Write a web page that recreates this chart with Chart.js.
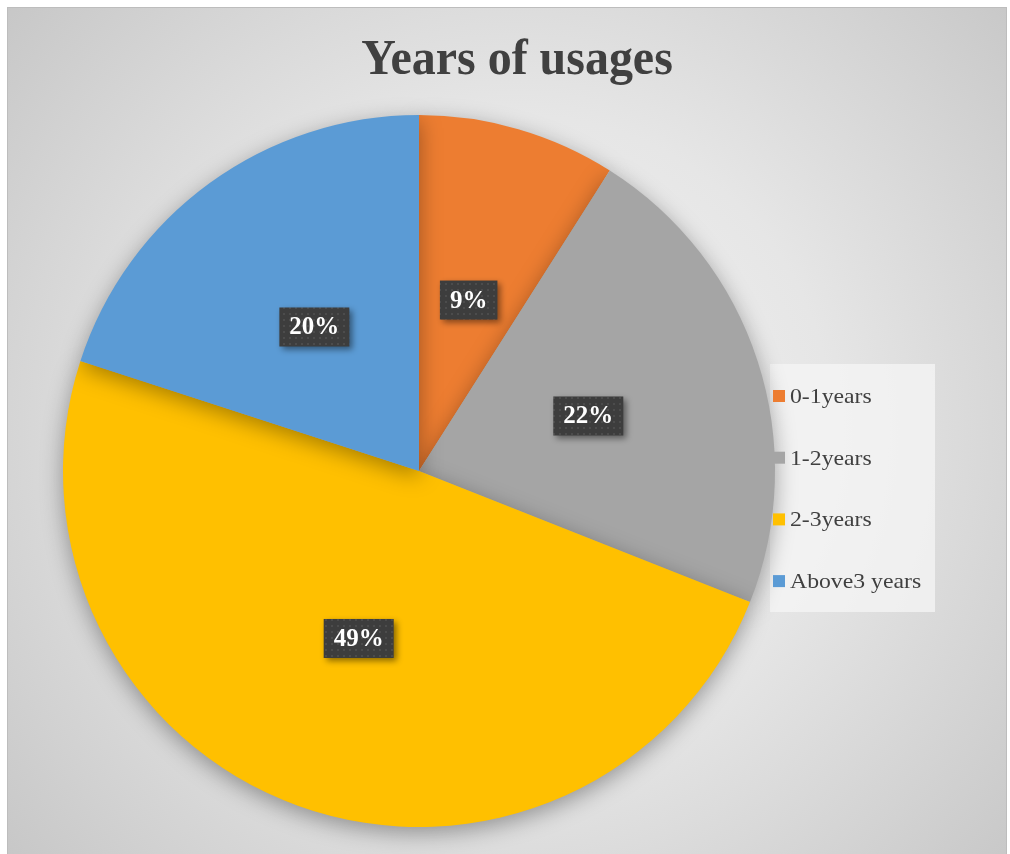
<!DOCTYPE html>
<html>
<head>
<meta charset="utf-8">
<script src="https://cdn.jsdelivr.net/npm/chart.js@4/dist/chart.umd.min.js"></script>
<style>
  html, body { margin: 0; padding: 0; background: #fff; }
  #wrap { width: 1010px; height: 854px; position: relative; }
</style>
</head>
<body>
<div id="wrap"><canvas id="usageChart" width="1010" height="854"></canvas></div>
<script>
// Years of usage data (percent of respondents)
const categories = ['0-1years', '1-2years', '2-3years', 'Above3 years'];
const shares = [9, 22, 49, 20];
const sliceColors = ['#ED7D31', '#A5A5A5', '#FFC000', '#5B9BD5'];
const chartTitle = 'Years of usages';

const SERIF = '"Liberation Serif", "Times New Roman", serif';

// small dotted fill for the value labels
function dotPattern(ctx) {
    const p = document.createElement('canvas');
    p.width = 6; p.height = 6;
    const pc = p.getContext('2d');
    pc.fillStyle = '#3d3d3d';
    pc.fillRect(0, 0, 6, 6);
    pc.fillStyle = '#4c4c4c';
    pc.fillRect(1, 1, 2, 2);
    return ctx.createPattern(p, 'repeat');
}

// frame background + title
const backdrop = {
    id: 'backdrop',
    beforeDraw(chart) {
        const ctx = chart.ctx;
        ctx.save();
        ctx.fillStyle = '#ffffff';
        ctx.fillRect(0, 0, chart.width, chart.height);
        const g = ctx.createRadialGradient(517, 430, 0, 517, 430, 700);
        g.addColorStop(0, '#f4f4f4');
        g.addColorStop(0.45, '#e6e6e6');
        g.addColorStop(1, '#c4c4c4');
        ctx.fillStyle = g;
        ctx.fillRect(7, 7, 1000, 847);
        ctx.strokeStyle = '#bdbdbd';
        ctx.lineWidth = 1;
        ctx.strokeRect(7.5, 7.5, 999, 850);

        // legend panel sits behind the pie
        ctx.fillStyle = 'rgba(245,245,245,0.75)';
        ctx.fillRect(770, 364, 165, 248);

        ctx.fillStyle = '#404040';
        ctx.font = 'bold 51px ' + SERIF;
        ctx.textAlign = 'center';
        ctx.textBaseline = 'alphabetic';
        ctx.translate(517, 74);
        ctx.scale(0.94, 1);
        ctx.fillText(chartTitle, 0, 0);
        ctx.restore();
    },
    beforeDatasetsDraw(chart) {
        const ctx = chart.ctx;
        ctx.save();
        ctx.shadowColor = 'rgba(0,0,0,0.35)';
        ctx.shadowBlur = 22;
        ctx.shadowOffsetY = 6;
    },
    afterDatasetsDraw(chart) {
        chart.ctx.restore();
    }
};

// boxed percentage labels at half radius + legend on the right
const annotate = {
    id: 'annotate',
    afterDraw(chart) {
        const ctx = chart.ctx;
        const meta = chart.getDatasetMeta(0);
        const fill = dotPattern(ctx);
        ctx.save();
        ctx.font = 'bold 25px ' + SERIF;
        ctx.textAlign = 'center';
        ctx.textBaseline = 'middle';
        meta.data.forEach((arc, i) => {
            const mid = (arc.startAngle + arc.endAngle) / 2;
            const r = arc.outerRadius * 0.5;
            const x = arc.x + Math.cos(mid) * r;
            const y = arc.y + Math.sin(mid) * r;
            const text = chart.data.datasets[0].data[i] + '%';
            const w = ctx.measureText(text).width + 20;
            const h = 39;
            ctx.save();
            ctx.shadowColor = 'rgba(0,0,0,0.45)';
            ctx.shadowBlur = 6;
            ctx.shadowOffsetX = 3;
            ctx.shadowOffsetY = 3;
            ctx.fillStyle = fill;
            ctx.fillRect(x - w / 2, y - h / 2, w, h);
            ctx.restore();
            ctx.fillStyle = '#ffffff';
            ctx.fillText(text, x, y + 1);
        });

        ctx.font = '21px ' + SERIF;
        ctx.textAlign = 'left';
        ctx.textBaseline = 'alphabetic';
        chart.data.labels.forEach((lab, i) => {
            const y = 396 + i * 61.7;
            ctx.fillStyle = chart.data.datasets[0].backgroundColor[i];
            ctx.fillRect(773, y - 6, 12, 12);
            ctx.save();
            ctx.fillStyle = '#404040';
            ctx.translate(790, y + 7);
            ctx.scale(1.13, 1);
            ctx.fillText(lab, 0, 0);
            ctx.restore();
        });
        ctx.restore();
    }
};

new Chart(document.getElementById('usageChart'), {
    type: 'pie',
    data: {
        labels: categories,
        datasets: [{
            data: shares,
            backgroundColor: sliceColors,
            borderWidth: 0
        }]
    },
    options: {
        responsive: false,
        animation: false,
        layout: {
            padding: { left: 63, right: 235, top: 115, bottom: 27 }
        },
        plugins: {
            legend: { display: false },
            tooltip: { enabled: false }
        }
    },
    plugins: [backdrop, annotate]
});
</script>
</body>
</html>
